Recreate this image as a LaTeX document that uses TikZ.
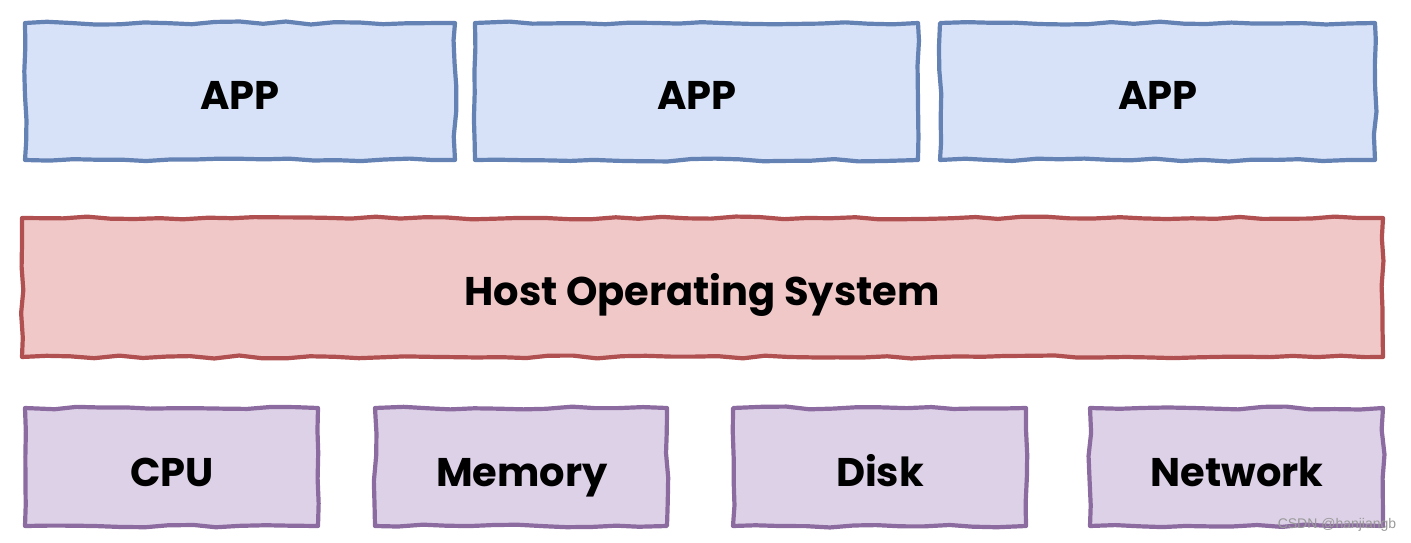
\documentclass[tikz,border=0pt]{standalone}
\usepackage{fontspec}
\setmainfont{Poppins}
\newfontfamily\wmfont{Liberation Sans}
\usetikzlibrary{decorations.pathmorphing}
\definecolor{appfill}{HTML}{D7E2F8}
\definecolor{appdraw}{HTML}{6582B4}
\definecolor{osfill}{HTML}{F0C8C8}
\definecolor{osdraw}{HTML}{B05050}
\definecolor{hwfill}{HTML}{DDD1E7}
\definecolor{hwdraw}{HTML}{8C6CA0}
\tikzset{
  sketch/.style={line width=4.2pt, decorate, decoration={random steps, segment length=24pt, amplitude=1.5pt}, line join=round},
  lbl/.style={font=\fontsize{40}{42}\selectfont\bfseries, text=black, anchor=base},
  appbox/.style={sketch, draw=appdraw, fill=appfill},
  osbox/.style={sketch, draw=osdraw, fill=osfill},
  hwbox/.style={sketch, draw=hwdraw, fill=hwfill},
}
\begin{document}
\begin{tikzpicture}[x=1pt,y=-1pt]
\pgfmathsetseed{7}
\useasboundingbox (0,0) rectangle (1411,543);
% APP row
\path[appbox] (25,23) rectangle (455,160);
\node[lbl] (app1) at (240,110) {APP};
\path[appbox] (475,23) rectangle (918,160);
\node[lbl] (app2) at (697,110) {APP};
\path[appbox] (940,23) rectangle (1375,160);
\node[lbl] (app3) at (1158,110) {APP};
% Host OS
\path[osbox] (22,218) rectangle (1383,357);
\node[lbl] (os) at (702,305) {Host Operating System};
% hardware
\path[hwbox] (25,408) rectangle (318,526);
\node[lbl] (cpu) at (172,486) {CPU};
\path[hwbox] (375,408) rectangle (667,526);
\node[lbl] (mem) at (522,486) {Memory};
\path[hwbox] (733,408) rectangle (1026,526);
\node[lbl] (disk) at (880,486) {Disk};
\path[hwbox] (1090,408) rectangle (1383,526);
\node[lbl] (net) at (1237,486) {Network};
% watermark
\node[font=\wmfont\fontsize{14}{16}\selectfont, text=black!40] (wm) at (1337,525) {CSDN @hanjiangb};
\end{tikzpicture}
\end{document}
